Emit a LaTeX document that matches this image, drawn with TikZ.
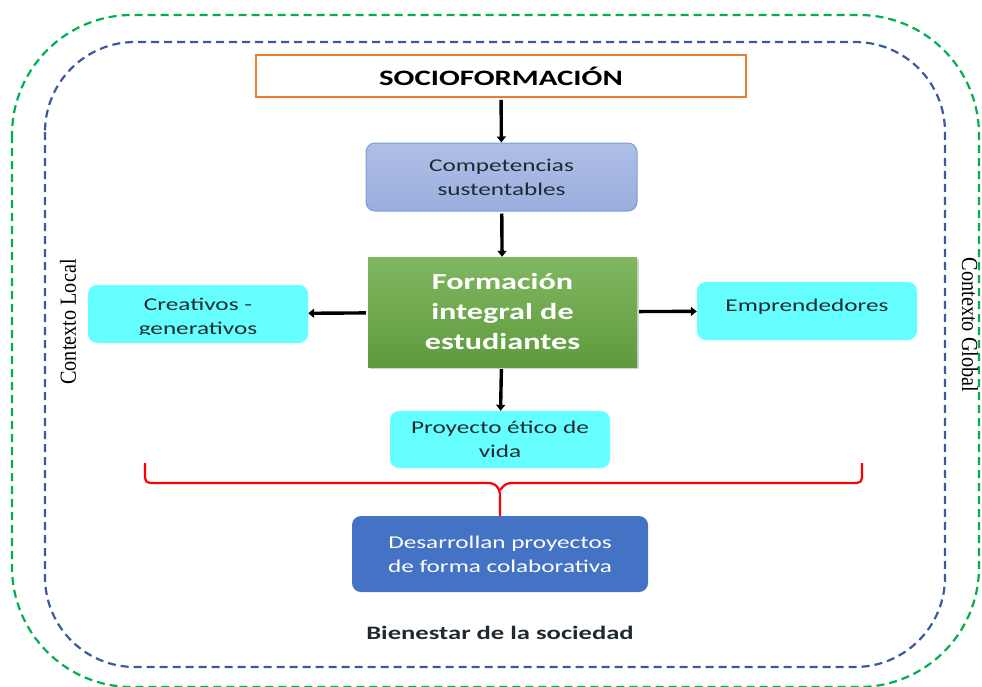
\documentclass[tikz,border=0pt]{standalone}
\usepackage{fontspec}
\setmainfont{Carlito}[FakeStretch=1.4]
\newfontfamily\ctxfont{Liberation Serif}[FakeStretch=0.88]
\usepackage{tikz}
\usetikzlibrary{arrows.meta, positioning, shadows}
\definecolor{ctxgreen}{HTML}{00B050}
\definecolor{ctxblue}{HTML}{3A5A9C}
\definecolor{orangeline}{HTML}{ED7D31}
\definecolor{compfill}{HTML}{9AAFDF}
\definecolor{compline}{HTML}{7F9BD6}
\definecolor{formgreen}{HTML}{6AAB45}
\definecolor{lightcyan}{HTML}{66FFFF}
\definecolor{darkblue}{HTML}{4472C4}
\definecolor{textdark}{HTML}{1F2A30}

\begin{document}
\begin{tikzpicture}[
    x=1pt, y=-1pt,
    box/.style={
        rounded corners=9pt,
        minimum width=220pt,
        minimum height=58pt,
        align=center,
        text=textdark,
        font=\fontsize{18}{24}\selectfont
    },
    cyanbox/.style={
        box,
        fill=lightcyan
    },
    arrow/.style={
        -{Triangle[length=6pt, width=9pt]},
        line width=3.4pt,
        shorten <=2pt
    },
    frame/.style={
        dash pattern=on 8pt off 5pt,
        line width=2.2pt
    }
]
\useasboundingbox (0,0) rectangle (982,686);

% Context frames
\draw[frame, ctxgreen, rounded corners=120pt] (12,15) rectangle (979,687);
\draw[frame, ctxblue, rounded corners=90pt] (45,42) rectangle (945,667);

\node[font=\ctxfont\fontsize{23}{26}\selectfont, rotate=90] (local) at (68,322) {Contexto Local};
\node[font=\ctxfont\fontsize{23}{26}\selectfont, rotate=-90] (global) at (970,325) {Contexto Global};

% Main column
\node[draw=orangeline, line width=1.6pt, minimum width=490pt, minimum height=42pt,
      font=\bfseries\fontsize{22}{26}\selectfont] (socio) at (501,76) {SOCIOFORMACIÓN};

\node[box, top color=compfill!80!white, bottom color=compfill, draw=compline, line width=1pt,
      minimum width=271pt, minimum height=68pt] (comp) at (501.5,177) {Competencias\\ sustentables};

\node[box, rounded corners=0pt, top color=formgreen!85!white, bottom color=formgreen!90!black,
      minimum width=269pt, minimum height=110pt, text=white,
      font=\bfseries\fontsize{23}{30}\selectfont,
      drop shadow={opacity=0.35, shadow xshift=2pt, shadow yshift=-2pt}] (form) at (502.5,312)
      {Formación\\ integral de\\ estudiantes};

% Side boxes
\node[cyanbox] (crea) at (198,314) {};
\begin{scope}
  \clip (88,285) rectangle (308,334);
  \node[box, text=textdark] (creatext) at (198,318) {Creativos -\\ generativos};
\end{scope}
\node[cyanbox] (empr) at (807,311) {\raisebox{12pt}{Emprendedores}};

\node[cyanbox, minimum height=57pt] (proy) at (500,439.5) {Proyecto ético de\\ vida};

\node[box, fill=darkblue, text=white, minimum width=296pt, minimum height=76pt] (desa) at (500,554)
      {Desarrollan proyectos\\ de forma colaborativa};

\node[font=\bfseries\fontsize{19}{22}\selectfont, text=textdark] (bien) at (500,633) {Bienestar de la sociedad};

% Arrows
\draw[arrow] (socio) -- (comp);
\draw[arrow] (comp) -- (form);
\draw[arrow] (form) -- (crea);
\draw[arrow] (form) -- (empr);
\draw[arrow] (form) -- (proy);

% Bracket
\coordinate (bl) at (145,463);
\coordinate (br) at (862,463);
\coordinate (notch) at (500,490);
\draw[red, line width=2.2pt, rounded corners=5pt] (bl) |- (494,483) -- (notch) -- (desa.north);
\draw[red, line width=2.2pt, rounded corners=5pt] (br) |- (506,483) -- (notch);

\end{tikzpicture}
\end{document}
